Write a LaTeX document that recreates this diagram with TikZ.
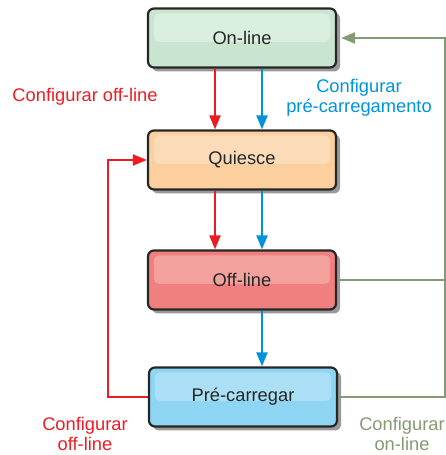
\documentclass[tikz,border=0pt]{standalone}
\usepackage{fontspec}
\setmainfont{Liberation Sans}
\usetikzlibrary{arrows.meta,shadows,calc}
\definecolor{cred}{HTML}{ED1C24}
\definecolor{cblue}{HTML}{0093DD}
\definecolor{cgreen}{HTML}{849B74}
\definecolor{gOut}{HTML}{C9E5D0}
\definecolor{gIn}{HTML}{DAEEDF}
\definecolor{oOut}{HTML}{FBCF9E}
\definecolor{oIn}{HTML}{FBDBB8}
\definecolor{rOut}{HTML}{F08080}
\definecolor{rIn}{HTML}{F2A19C}
\definecolor{bOut}{HTML}{8ED5F3}
\definecolor{bIn}{HTML}{AADFF5}
\tikzset{
  state/.style={draw=black!85, line width=2.2pt, rounded corners=6pt, minimum width=188pt, minimum height=59pt,
    drop shadow={shadow xshift=4pt, shadow yshift=-4pt, fill=black!40, opacity=1}},
  lbl/.style={font=\fontsize{18.3}{21}\selectfont, text=black!85},
  arr/.style={line width=2.2pt, -{Triangle[length=14pt,width=11pt]}},
  conn/.style={line width=2.2pt},
  note/.style={font=\fontsize{18.3}{20.5}\selectfont, align=center},
}
\newcommand{\highlight}[2]{\fill[#2, rounded corners=5pt] ($(#1.north west)+(7,-6)$) rectangle ($(#1.east)+(-7,-4)$);}
\begin{document}
\begin{tikzpicture}[x=1pt,y=1pt]
\useasboundingbox (0,0) rectangle (446,455);
% boxes
\node[state, fill=gOut] (on) at (242,417) {};
\highlight{on}{gIn}
\node[lbl] (ont) at (on) {On-line};
\node[state, fill=oOut] (qu) at (242,295) {};
\highlight{qu}{oIn}
\node[lbl] (qut) at (qu) {Quiesce};
\node[state, fill=rOut] (off) at (242,175) {};
\highlight{off}{rIn}
\node[lbl] (offt) at (off) {Off-line};
\node[state, fill=bOut] (pre) at (243,58) {};
\highlight{pre}{bIn}
\node[lbl] (pret) at (pre) {Pré-carregar};
% helper coordinates
\coordinate (rx) at (215,0);
\coordinate (bx) at (262,0);
\coordinate (lx) at (108,0);
\coordinate (gx) at (445,0);
% arrows
\draw[arr, cred] (on.south -| rx) -- (qu.north -| rx);
\draw[arr, cblue] (on.south -| bx) -- (qu.north -| bx);
\draw[arr, cred] (qu.south -| rx) -- (off.north -| rx);
\draw[arr, cblue] (qu.south -| bx) -- (off.north -| bx);
\draw[arr, cblue] (off.south -| bx) -- (pre.north -| bx);
\draw[arr, cred] (pre.west) -- (pre.west -| lx) |- (qu.west);
\draw[conn, cgreen] (off.east) -- (off.east -| gx);
\draw[arr, cgreen] (pre.east) -| (gx |- on.east) -- ([xshift=4pt]on.east);
% labels
\node[note, text=cred] (l1) at (85,358) {Configurar off-line};
\node[note, text=cblue] (l2) at (359,357) {Configurar\\pré-carregamento};
\node[note, text=cred] (l3) at (85,21) {Configurar\\off-line};
\node[note, text=cgreen] (l4) at (402,21) {Configurar\\on-line};
\end{tikzpicture}
\end{document}
